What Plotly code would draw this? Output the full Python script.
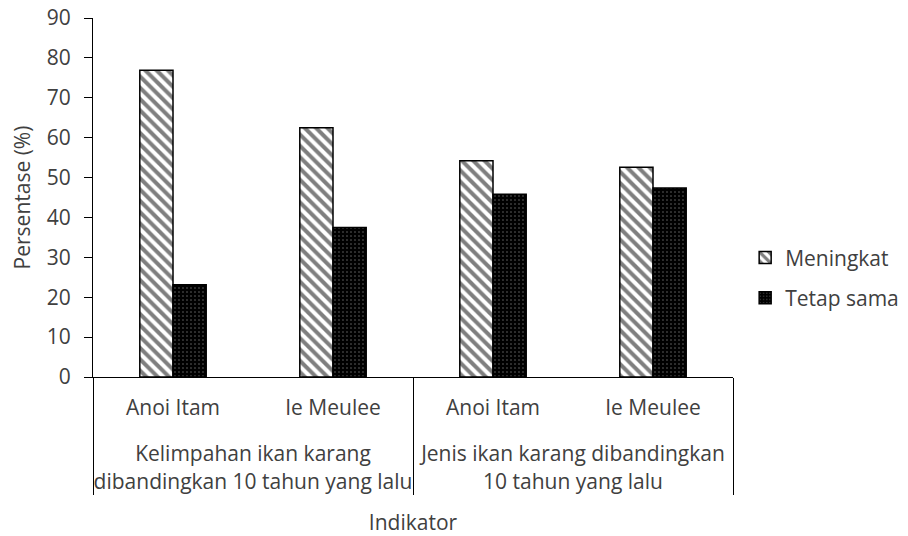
import plotly.graph_objects as go

groups = ["Kelimpahan ikan karang<br>dibandingkan 10 tahun yang lalu",
          "Kelimpahan ikan karang<br>dibandingkan 10 tahun yang lalu",
          "Jenis ikan karang dibandingkan<br>10 tahun yang lalu",
          "Jenis ikan karang dibandingkan<br>10 tahun yang lalu"]
sites = ["Anoi Itam", "Ie Meulee", "Anoi Itam", "Ie Meulee"]
meningkat = [76.9, 62.5, 54.2, 52.6]
tetap_sama = [23.1, 37.5, 45.8, 47.4]
y_ticks = [0, 10, 20, 30, 40, 50, 60, 70, 80, 90]

FONT = "Open Sans"
TXT = "#404040"
FS = 21

# small blank line under each site label to open space before the group labels
spacer = "<br><span style='font-size:24px'>\u00a0</span>"
site_labels = [s + spacer for s in sites]

fig = go.Figure()
fig.add_trace(go.Bar(
    x=[groups, site_labels], y=meningkat, name="Meningkat", legendgroup="a",
    marker=dict(color="white", line=dict(color="black", width=1.5),
                pattern=dict(shape="\\", bgcolor="white", fgcolor="black",
                             size=8, solidity=0.5, fillmode="overlay")),
))
fig.add_trace(go.Bar(
    x=[groups, site_labels], y=tetap_sama, name="Tetap sama", legendgroup="b",
    marker=dict(color="black", line=dict(color="black", width=1.5),
                pattern=dict(shape=".", bgcolor="black", fgcolor="#d0d0d0",
                             size=4, solidity=0.12, fillmode="overlay")),
))

fig.update_layout(
    width=900, height=528,
    margin=dict(l=85, r=175, t=10, b=159, autoexpand=False),
    paper_bgcolor="white", plot_bgcolor="white",
    barmode="group", bargap=0.585, bargroupgap=0,
    font=dict(family=FONT, size=FS, color=TXT),
    legend=dict(x=1.019, y=0.276, xanchor="left", yanchor="middle",
                font=dict(family=FONT, size=FS, color=TXT),
                itemwidth=30, tracegroupgap=10),
    showlegend=True,
)
fig.update_yaxes(
    range=[0, 90], tickvals=y_ticks, showgrid=False, zeroline=False,
    showline=True, linecolor="black", linewidth=1, automargin=False,
    ticks="outside", ticklen=8, tickcolor="black", ticklabelstandoff=9,
    ticklabeloverflow="allow",
    tickfont=dict(family=FONT, size=FS, color=TXT),
    title=dict(text="Persentase (%)", font=dict(family=FONT, size=FS, color=TXT), standoff=14),
)
fig.update_xaxes(
    type="multicategory", showgrid=False, showline=True, linecolor="black", linewidth=1,
    automargin=False, ticks="", showdividers=True, dividercolor="black", dividerwidth=1,
    ticklabelstandoff=12,
    tickfont=dict(family=FONT, size=FS, color=TXT),
    title=dict(text="Indikator", font=dict(family=FONT, size=FS, color=TXT), standoff=21),
)
fig.write_html("out.html")
